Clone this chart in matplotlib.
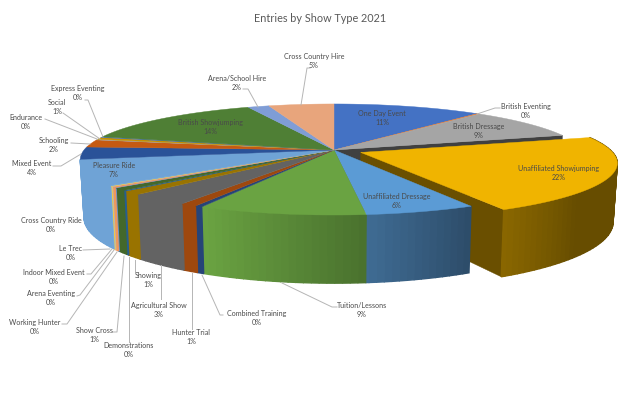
import numpy as np
import matplotlib
matplotlib.use("Agg")
import matplotlib.pyplot as plt

# slices go clockwise from 12 o'clock
names = ["One Day Event", "British Eventing", "British Dressage", "Unaffiliated Showjumping",
         "Unaffiliated Dressage", "Tuition/Lessons", "Combined Training", "Hunter Trial",
         "Agricultural Show", "Showing", "Demonstrations", "Show Cross", "Working Hunter",
         "Arena Eventing", "Indoor Mixed Event", "Le Trec", "Cross Country Ride", "Pleasure Ride",
         "Mixed Event", "Schooling", "Endurance", "Social", "Express Eventing",
         "British Showjumping", "Arena/School Hire", "Cross Country Hire"]
values = [11.2, 0.2, 9.0, 21.9, 6.0, 9.1, 0.4, 0.9, 3.4, 1.1, 0.2, 0.8, 0.1, 0.3, 0.1, 0.1, 0.1,
          7.4, 3.6, 2.2, 0.2, 0.6, 0.2, 14.4, 1.6, 4.9]
colors = ["#4472C4", "#ED7D31", "#A5A5A5", "#F0B400", "#5B9BD5", "#6AA342", "#264478", "#9E480E",
          "#636363", "#997300", "#255E91", "#43682B", "#698ED0", "#F1975A", "#B7B7B7", "#FFCD33",
          "#7CAFDD", "#6FA3D6", "#2A5298", "#C55A11", "#A5A5A5", "#C49000", "#4472C4", "#4F7F35",
          "#7F9DD6", "#E8A57C"]

# label centres in pixels, name -> (x, y)
label_pos = {"One Day Event": (382, 118), "British Eventing": (526, 111), "British Dressage": (479, 131),
             "Unaffiliated Showjumping": (559, 173), "Unaffiliated Dressage": (397, 201),
             "Tuition/Lessons": (362, 310), "Combined Training": (257, 318), "Hunter Trial": (191, 337),
             "Agricultural Show": (159, 310), "Showing": (148, 280), "Demonstrations": (129, 350),
             "Show Cross": (94, 335), "Working Hunter": (35, 327), "Arena Eventing": (51, 298),
             "Indoor Mixed Event": (54, 277), "Le Trec": (71, 253), "Cross Country Ride": (51, 225),
             "Pleasure Ride": (114, 170), "Mixed Event": (32, 168), "Schooling": (54, 145),
             "Endurance": (26, 122), "Social": (57, 107), "Express Eventing": (78, 93),
             "British Showjumping": (210, 127), "Arena/School Hire": (237, 83), "Cross Country Hire": (314, 61)}

# leader lines, in pixels
leaders = [[(85, 100), (88, 100), (103, 137)], [(63, 113), (100, 139)], [(45, 119), (97, 139)],
           [(71, 143), (90, 144)], [(53, 166), (61, 166), (81, 154)], [(243, 89), (248, 89), (258, 107)],
           [(310, 68), (307, 68), (301, 105)], [(500, 108), (495, 108), (477, 114)],
           [(83, 250), (110, 249)], [(87, 274), (91, 274), (112, 249)], [(77, 296), (80, 295), (114, 250)],
           [(62, 324), (67, 324), (117, 252)], [(113, 332), (117, 332), (124, 256)],
           [(129, 342), (129, 257)], [(135, 272), (135, 260)], [(161, 299), (161, 265)],
           [(192, 329), (192, 273)], [(223, 315), (220, 315), (202, 275)],
           [(337, 307), (332, 307), (282, 283)]]

CX, CY = 334, 150    # pie centre on screen
RX, RY = 250, 53.9   # disc scale
K = 0.171            # perspective strength
DEPTH = 56.5
EXPLODE = 0.115
exploded = "Unaffiliated Showjumping"


def project(u, v):
    w = 1 + K * v
    return CX + RX * u / w, CY - RY * v / w


def rim(a1, a2, off=(0, 0)):
    angs = np.radians(np.linspace(a1, a2, max(int((a2 - a1) * 2), 2)))
    return np.sin(angs) + off[0], np.cos(angs) + off[1]


def dropped(u, v):
    x, y = project(u, v)
    return CX + (x - CX) * 0.985, y + DEPTH / (1 + K * v)


def shade(col, f):
    return tuple(c * f for c in matplotlib.colors.to_rgb(col))


def wall(ax, u, v, col):
    # radial face going from (u[0], v[0]) to (u[1], v[1]), extruded down
    x, y = project(np.array(u), np.array(v))
    xb, yb = dropped(np.array(u), np.array(v))
    ax.fill([x[0], x[1], xb[1], xb[0]], [y[0], y[1], yb[1], yb[0]], color=col, lw=0.3)


def side(ax, a1, a2, col, off=(0, 0), main=True):
    edges = np.arange(a1, a2, 1.5).tolist() + [a2]
    for a, b in zip(edges[:-1], edges[1:]):
        mid = (a + b) / 2
        if main:
            f = np.clip(1 - (206 - mid) * 0.0095, 0.4, 1)
        else:
            f = 0.43 + 0.14 * max(0, (mid - 132) / 20)
        u, v = rim(a, b, off)
        x, y = project(u, v)
        xb, yb = dropped(u, v)
        ax.fill(np.r_[x, xb[::-1]], np.r_[y, yb[::-1]], color=shade(col, f), lw=1.0)


def main():
    fig = plt.figure(figsize=(6.4, 4.2), dpi=100)
    ax = fig.add_axes([0, 0, 1, 1])
    ax.set_xlim(0, 640)
    ax.set_ylim(420, 0)
    ax.axis("off")

    total = sum(values)
    ends = np.cumsum(values) / total * 360
    starts = np.r_[0, ends[:-1]]
    idx = names.index(exploded)
    a1, a2 = starts[idx], ends[idx]
    mid = np.radians((a1 + a2) / 2)
    off = (EXPLODE * np.sin(mid), EXPLODE * np.cos(mid))

    # dark faces seen through the gap
    r1 = np.radians(a1)
    wall(ax, [0, np.sin(r1)], [0, np.cos(r1)], "#404040")
    r2 = np.radians(a2)
    wall(ax, [off[0], off[0] + np.sin(r2)], [off[1], off[1] + np.cos(r2)], shade(colors[idx], 0.44))

    # rest of the pie, side stops at the left edge of the disc
    for i in range(len(names)):
        if i != idx and ends[i] > 150 and starts[i] < 260:
            side(ax, starts[i], ends[i], colors[i])
    for i in range(len(names)):
        if i != idx:
            u, v = rim(starts[i], ends[i])
            x, y = project(np.r_[0, u], np.r_[0, v])
            ax.fill(x, y, color=colors[i], lw=0.3)

    # pulled out slice
    side(ax, a1, a2, colors[idx], off, main=False)
    u, v = rim(a1, a2, off)
    x, y = project(np.r_[off[0], u], np.r_[off[1], v])
    ax.fill(x, y, color=colors[idx], lw=0.3)

    for line in leaders:
        ax.plot([p[0] for p in line], [p[1] for p in line], color="#B5B5B5", lw=0.7, zorder=3)

    for name, val in zip(names, values):
        x, y = label_pos[name]
        ax.text(x, y, f"{name}\n{round(val)}%", ha="center", va="center", family="Lato",
                fontsize=5.1, color="#4A4A4A", linespacing=1.24, zorder=4)

    ax.text(320, 18, "Entries by Show Type 2021", ha="center", va="center", family="Lato",
            fontsize=7.8, color="#595959")

    fig.savefig("out.png", dpi=100)


if __name__ == '__main__':
    main()
